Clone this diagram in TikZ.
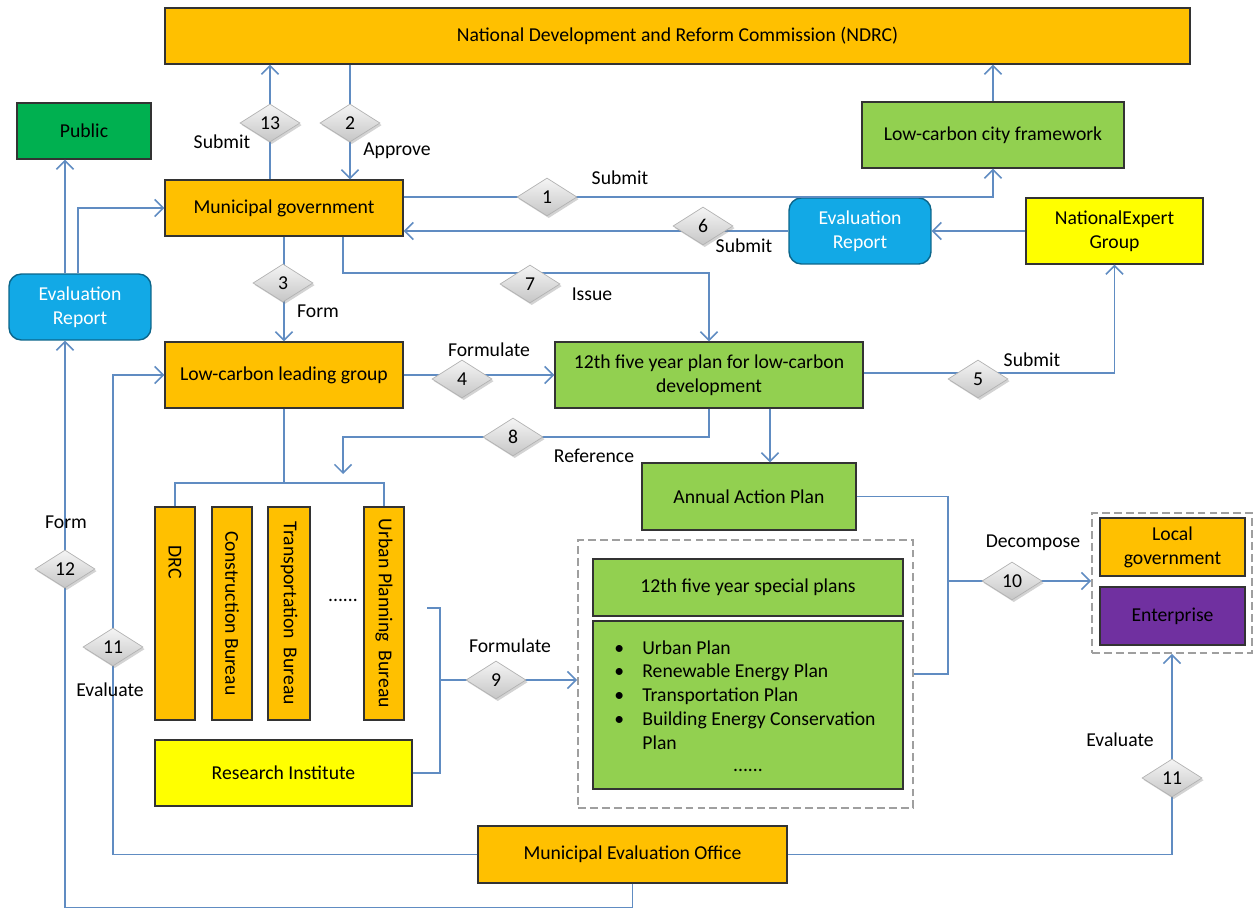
\documentclass[tikz,border=0pt]{standalone}
\usepackage{fontspec}
\setmainfont{Carlito}
\usetikzlibrary{arrows.meta,shapes.geometric,shadows}
\definecolor{ndrcorange}{HTML}{FFC000}
\definecolor{leafgreen}{HTML}{92D050}
\definecolor{publicgreen}{HTML}{00B050}
\definecolor{reportblue}{HTML}{12A9E6}
\definecolor{expertyellow}{HTML}{FFFF00}
\definecolor{firmpurple}{HTML}{7030A0}
\definecolor{linkblue}{RGB}{96,140,194}

\begin{document}
\begin{tikzpicture}[x=0.02cm, y=-0.02cm, font=\fontsize{11.2}{13.6}\selectfont,
  box/.style={draw=black!80, line width=0.8pt, inner sep=2pt, align=center},
  report/.style={box, draw=reportblue!60!black, fill=reportblue, text=white, rounded corners=7pt,
    minimum width=2.84cm, minimum height=1.32cm},
  bar/.style={box, fill=ndrcorange, minimum width=0.8cm, minimum height=4.26cm},
  link/.style={draw=linkblue, line width=0.9pt},
  conn/.style={link, -{Straight Barb[length=1.7mm, width=3.4mm]}},
  num/.style={diamond, aspect=1.6, inner sep=0pt, minimum width=1.2cm, minimum height=0.76cm,
    draw=gray!60, top color=gray!8, bottom color=gray!45,
    drop shadow={shadow xshift=1pt, shadow yshift=-1.2pt, opacity=0.35}},
  lbl/.style={inner sep=1pt},
  group/.style={draw=gray!75, line width=1.1pt, dash pattern=on 4.5pt off 2.3pt}]
\useasboundingbox (0,0) rectangle (1254,909);

% boxes
\node[box, fill=ndrcorange, minimum width=20.5cm, minimum height=1.12cm] (ndrc) at (677.5,36) {National Development and Reform Commission (NDRC)};
\node[box, fill=publicgreen, minimum width=2.68cm, minimum height=1.12cm] (public) at (84,131) {Public};
\node[box, fill=ndrcorange, minimum width=4.76cm, minimum height=1.12cm] (munic) at (284,208) {Municipal government};
\node[box, fill=leafgreen, minimum width=5.24cm, minimum height=1.32cm] (frame) at (993,135) {Low-carbon city framework};
\node[report] (evalL) at (80,307) {Evaluation\\Report};
\node[report] (evalM) at (860,231) {Evaluation\\Report};
\node[box, fill=expertyellow, minimum width=3.54cm, minimum height=1.32cm] (expert) at (1114.5,231) {NationalExpert\\Group};
\node[box, fill=ndrcorange, minimum width=4.76cm, minimum height=1.32cm] (lead) at (284,375) {Low-carbon leading group};
\node[box, fill=leafgreen, minimum width=6.16cm, minimum height=1.32cm] (plan) at (709,375) {12th five year plan for low-carbon\\development};
\node[box, fill=leafgreen, minimum width=4.28cm, minimum height=1.34cm] (annual) at (749,496.5) {Annual Action Plan};

\node[group, minimum width=6.7cm, minimum height=5.36cm] (plans) at (745.5,674) {};
\node[box, fill=leafgreen, minimum width=6.2cm, minimum height=1.14cm] (special) at (748,587.5) {12th five year special plans};
\node[box, fill=leafgreen, minimum width=6.2cm, minimum height=3.36cm] (planlist) at (748,705) {};
\node[anchor=north west, inner sep=0pt] (plantext) at (614,637) {%
  \begin{tabular}{@{}p{0.56cm}@{}l@{}}
  \textbullet & Urban Plan\\
  \textbullet & Renewable Energy Plan\\
  \textbullet & Transportation Plan\\
  \textbullet & Building Energy Conservation\\
   & Plan
  \end{tabular}};
\node[lbl] (plandots) at (748,770) {......};

\node[group, minimum width=3.2cm, minimum height=2.8cm] (actors) at (1172,583) {};
\node[box, fill=ndrcorange, minimum width=2.9cm, minimum height=1.16cm] (localgov) at (1172.5,547) {Local\\government};
\node[box, fill=firmpurple, minimum width=2.9cm, minimum height=1.16cm] (firm) at (1172.5,616) {Enterprise};

\node[bar] (drc) at (175,613.5) {\rotatebox{-90}{DRC\hspace*{2.06cm}}};
\node[bar] (cons) at (232,613.5) {\rotatebox{-90}{Construction Bureau}};
\node[bar, minimum width=0.84cm] (trans) at (289,613.5) {\rotatebox{-90}{Transportation~~Bureau}};
\node[lbl] (moredots) at (343,600) {......};
\node[bar] (urban) at (384,613.5) {\rotatebox{-90}{Urban Planning~~Bureau}};
\node[box, fill=expertyellow, minimum width=5.14cm, minimum height=1.32cm] (research) at (283.5,773) {Research Institute};
\node[box, fill=ndrcorange, minimum width=6.18cm, minimum height=1.14cm] (office) at (632.5,854.5) {Municipal Evaluation Office};

\coordinate (reftip) at (343,474);
\coordinate (br9) at (427,608);
\coordinate (j9) at (440,680);
\coordinate (j10) at (948,581);

% connectors
\draw[conn] (munic.east |- 0,197) -| (frame.south);
\draw[conn] (frame.north) -- (frame.north |- ndrc.south);
\draw[conn] (350,0 |- ndrc.south) -- (350,0 |- munic.north);
\draw[conn] (270,0 |- munic.north) -- (270,0 |- ndrc.south);
\draw[conn] (expert.west) -- (evalM.east);
\draw[conn] (evalM.west) -- (evalM.west -| munic.east);
\draw[conn] (munic.south) -- (lead.north);
\draw[conn] (343,0 |- munic.south) |- (plan.north |- 0,273) -- (plan.north);
\draw[conn] (lead.east) -- (plan.west);
\draw[conn] (plan.east |- 0,373) -| (expert.south);
\draw[conn] (plan.south) |- (reftip |- 0,437) -- (reftip);
\draw[conn] (770,0 |- plan.south) -- (770,0 |- annual.north);
\draw[link] (lead.south) -- (lead.south |- 0,483);
\draw[link] (drc.north) -- (drc.north |- 0,483) -- (urban.north |- 0,483) -- (urban.north);
\draw[link] (br9) -| (j9 |- research.east) -- (research.east);
\draw[conn] (j9) -- (plans.west |- j9);
\draw[link] (annual.east) -| (j10 |- plans.east) -- (plans.east);
\draw[conn] (j10) -- (actors.west |- j10);
\draw[conn] (office.east) -| (actors.south);
\draw[conn] (office.west) -| (113,0 |- lead.west) -- (lead.west);
\draw[conn] (office.south) -- ++(0,24) -| (65,0 |- evalL.south);
\draw[conn] (65,0 |- evalL.north) -- (65,0 |- public.south);
\draw[conn] (78,0 |- evalL.north) |- (munic.west);

% numbered steps
\node[num] (d13) at (270,123) {13};
\node[num] (d2) at (350,123) {2};
\node[num] (d1) at (547,197) {1};
\node[num] (d6) at (703,226) {6};
\node[num] (d3) at (283,283) {3};
\node[num] (d7) at (530,284) {7};
\node[num] (d4) at (462,379) {4};
\node[num] (d5) at (978,379) {5};
\node[num] (d8) at (513,437) {8};
\node[num] (d9) at (496,680) {9};
\node[num] (d10) at (1012,581) {10};
\node[num] (d11r) at (1172,778) {11};
\node[num] (d11l) at (113,647) {11};
\node[num] (d12) at (65,569) {12};

% labels
\node[lbl] (l13) at (222,142) {Submit};
\node[lbl] (l2) at (397,151) {Approve};
\node[lbl] (l1) at (620,178) {Submit};
\node[lbl] (l3) at (318,311) {Form};
\node[lbl] (l7) at (592,294) {Issue};
\node[lbl] (l6) at (744,246) {Submit};
\node[lbl] (l4) at (489,350) {Formulate};
\node[lbl] (l5) at (1032,360) {Submit};
\node[lbl] (l8) at (594,456) {Reference};
\node[lbl] (l9) at (510,646) {Formulate};
\node[lbl] (l10) at (1033,543) {Decompose};
\node[lbl] (l11r) at (1120,740) {Evaluate};
\node[lbl] (l11l) at (110,690) {Evaluate};
\node[lbl] (l12) at (66,522) {Form};
\end{tikzpicture}
\end{document}
